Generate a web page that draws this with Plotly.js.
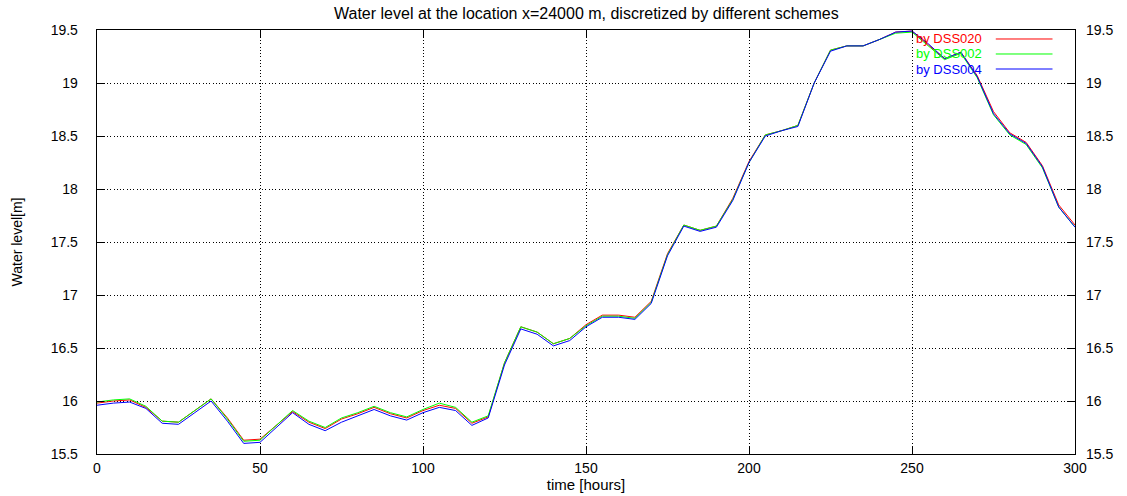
<!DOCTYPE html>
<html>
<head>
<meta charset="utf-8">
<script src="https://cdn.plot.ly/plotly-3.0.1.min.js"></script>
<style>html,body{margin:0;padding:0;background:#fff;}#chart{width:1127px;height:496px;}</style>
</head>
<body>
<div id="chart"></div>
<script>
const timeHours = [0,5,10,15,20,25,30,35,40,45,50,55,60,65,70,75,80,85,90,95,100,105,110,115,120,125,130,135,140,145,150,155,160,165,170,175,180,185,190,195,200,205,210,215,220,225,230,235,240,245,250,255,260,265,270,275,280,285,290,295,300];

const dss020 = [15.98,16.00,16.01,15.94,15.81,15.80,15.91,16.02,15.84,15.63,15.64,15.77,15.90,15.80,15.74,15.83,15.88,15.94,15.88,15.84,15.91,15.96,15.93,15.79,15.85,16.36,16.70,16.65,16.54,16.59,16.72,16.81,16.81,16.79,16.94,17.39,17.66,17.61,17.65,17.91,18.26,18.51,18.55,18.60,19.00,19.31,19.35,19.35,19.41,19.48,19.49,19.36,19.23,19.29,19.07,18.73,18.53,18.44,18.22,17.85,17.66];

const dss002 = [15.99,16.01,16.02,15.95,15.81,15.80,15.91,16.02,15.83,15.62,15.63,15.77,15.91,15.81,15.75,15.84,15.89,15.95,15.89,15.85,15.92,15.98,15.94,15.80,15.86,16.36,16.70,16.65,16.54,16.59,16.71,16.80,16.80,16.78,16.93,17.38,17.66,17.61,17.65,17.90,18.25,18.51,18.55,18.60,19.00,19.31,19.35,19.35,19.41,19.47,19.48,19.35,19.22,19.28,19.05,18.70,18.51,18.42,18.20,17.83,17.64];

const dss004 = [15.96,15.98,15.99,15.93,15.79,15.78,15.89,16.00,15.81,15.60,15.61,15.75,15.89,15.78,15.72,15.80,15.86,15.92,15.86,15.82,15.89,15.94,15.91,15.77,15.84,16.34,16.68,16.63,16.52,16.57,16.70,16.79,16.79,16.77,16.92,17.37,17.65,17.60,17.64,17.89,18.25,18.50,18.55,18.59,19.00,19.30,19.35,19.35,19.41,19.48,19.49,19.37,19.23,19.29,19.06,18.71,18.52,18.43,18.21,17.83,17.64];

const seriesNames = ['by DSS020','by DSS002','by DSS004'];
const seriesColors = ['#ff0000','#00ff00','#0000ff'];
const yTicks = [15.5,16,16.5,17,17.5,18,18.5,19,19.5];
const yTickText = ['15.5','16','16.5','17','17.5','18','18.5','19','19.5'];
const xTicks = [0,50,100,150,200,250,300];

const FONT = 'Liberation Sans, Arial, Helvetica, sans-serif';
const allSeries = [dss020, dss002, dss004];

const traces = allSeries.map((ys, i) => ({
  x: timeHours, y: ys, type: 'scatter', mode: 'lines', name: seriesNames[i],
  line: {color: seriesColors[i], width: 1}, showlegend: false, hoverinfo: 'skip'
}));
traces.push({x: timeHours, y: dss004, yaxis: 'y2', type: 'scatter', mode: 'lines',
  line: {color: 'rgba(0,0,0,0)', width: 0}, showlegend: false, hoverinfo: 'skip'});

// legend (gnuplot style: text on the left, sample on the right)
const legY = [0.9788, 0.9434, 0.9080];
const annotations = [
  {text: 'Water level at the location x=24000 m, discretized by different schemes', xref: 'paper', yref: 'paper',
   x: 0.5, y: 1.04, xanchor: 'center', yanchor: 'middle', showarrow: false, font: {family: FONT, size: 16, color: '#000'}}
];
const shapes = [];
seriesNames.forEach((n, i) => {
  annotations.push({text: n, xref: 'paper', yref: 'paper', x: 0.906, y: legY[i], xanchor: 'right', yanchor: 'middle',
    showarrow: false, borderpad: 0, font: {family: FONT, size: 13, color: seriesColors[i]}});
  shapes.push({type: 'line', xref: 'paper', yref: 'paper', x0: 0.919, x1: 0.977, y0: legY[i], y1: legY[i],
    line: {color: seriesColors[i], width: 1}});
});

const layout = {
  width: 1127, height: 496,
  margin: {l: 97, r: 52, t: 30, b: 42},
  paper_bgcolor: '#fff', plot_bgcolor: '#fff',
  font: {family: FONT, size: 14, color: '#000'},
  showlegend: false,
  xaxis: {
    range: [0, 300], tickvals: xTicks, ticktext: xTicks.map(String),
    ticks: 'inside', ticklen: 7, tickwidth: 1, tickcolor: '#000',
    showline: true, linecolor: '#000', linewidth: 1.3, mirror: 'ticks',
    showgrid: true, gridcolor: '#000', gridwidth: 1, griddash: '1px,2.3px',
    zeroline: false, ticklabelstandoff: 1,
    tickfont: {family: FONT, size: 14, color: '#000'},
    title: {text: 'time [hours]', font: {family: FONT, size: 15, color: '#000'}, standoff: 0}
  },
  yaxis: {
    range: [15.5, 19.5], tickvals: yTicks, ticktext: yTickText,
    ticks: 'inside', ticklen: 7, tickwidth: 1, tickcolor: '#000',
    showline: true, linecolor: '#000', linewidth: 1.3, mirror: 'ticks',
    showgrid: true, gridcolor: '#000', gridwidth: 1, griddash: '1px,2.3px',
    zeroline: false, ticklabelstandoff: 15,
    tickfont: {family: FONT, size: 14, color: '#000'},
    title: {text: 'Water level[m]', font: {family: FONT, size: 14, color: '#000'}, standoff: 24}
  },
  yaxis2: {
    overlaying: 'y', side: 'right', anchor: 'x', matches: 'y',
    range: [15.5, 19.5], tickvals: yTicks, ticktext: yTickText,
    ticks: '', showline: false, showgrid: false, zeroline: false,
    ticklabelstandoff: 10,
    tickfont: {family: FONT, size: 14, color: '#000'}
  },
  annotations: annotations,
  shapes: shapes
};

Plotly.newPlot('chart', traces, layout, {displayModeBar: false, staticPlot: true});
</script>
</body>
</html>
